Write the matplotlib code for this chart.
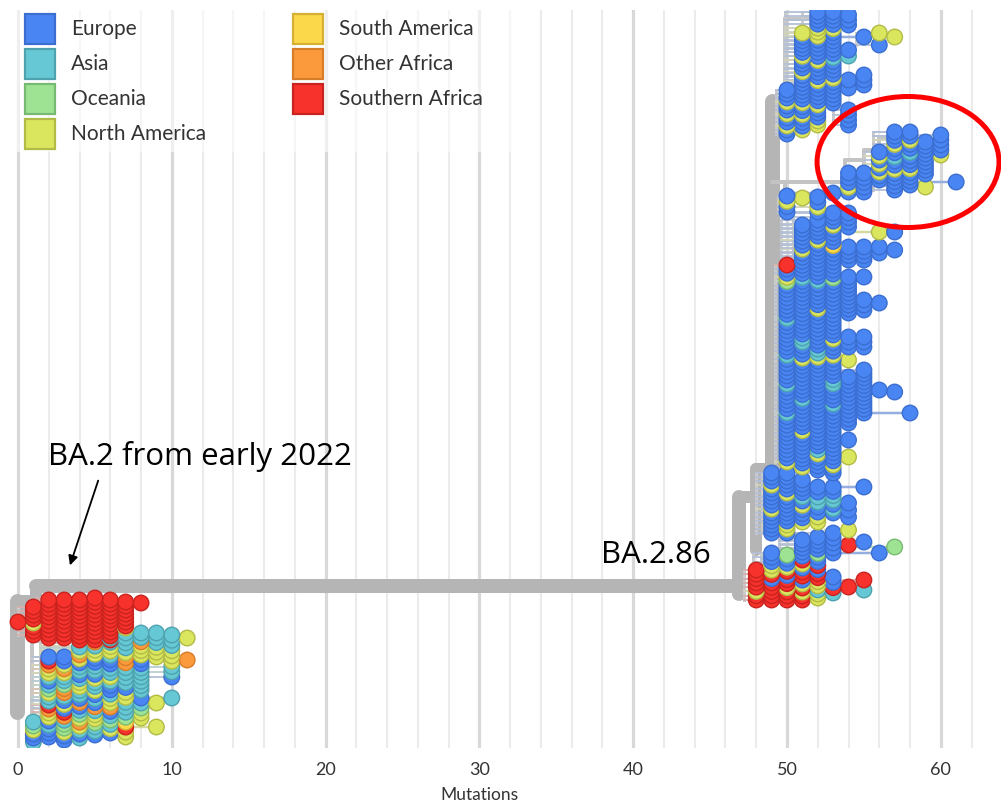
import matplotlib.pyplot as plt
from matplotlib.patches import Ellipse, Rectangle
from matplotlib.colors import to_rgb

plt.rcParams['font.family'] = ['Lato', 'DejaVu Sans']

# region colours, one letter per region in the tip strings below
regions = ['Europe', 'Asia', 'Oceania', 'North America',
           'South America', 'Other Africa', 'Southern Africa']
codes = ['E', 'A', 'O', 'N', 'S', 'F', 'R']
fills = ['#4a86f3', '#67c8d5', '#9ee394', '#dbe65f',
         '#fbd84a', '#fb9a3c', '#f7312b']
edges = ['#3b6ed0', '#4ea2ad', '#78ba72', '#b2bb45',
         '#d6b033', '#d67d2a', '#c8231f']

# tip columns: (mutations, first row, last row, parent node divergence, regions top->bottom)
ba2_red = [
    (0, 622, 622, -0.1, "R"),
    (1, 607, 635, 0.0, "RRRRNRRR"),
    (2, 600, 638, 1.2, "RRRRRRRRRR"),
    (3, 600, 638, 1.2, "RRRRRRRRRR"),
    (4, 600, 640, 1.2, "RRRRRRRRRRR"),
    (5, 598, 640, 1.2, "RRRRRRRRRRR"),
    (6, 600, 640, 1.2, "RRRRRRRRRRR"),
    (7, 602, 626, 1.2, "RRRRRRR"),
    (8, 603, 603, 1.2, "R"),
]

ba2_other = [
    (1, 722, 742, 0.9, "AONEEA"),
    (2, 657, 737, 0.9, "ERFNNAEAONAARFNNEAEEE"),
    (3, 657, 740, 0.9, "EENFNAAOFFAENERFAOONEE"),
    (4, 647, 738, 1.4, "ANFNEAAEANNAAEFEAONFNAEA"),
    (5, 642, 735, 1.4, "FANNEEAAENAANEAEFANNOAAE"),
    (6, 638, 733, 1.4, "AANNAEEAANAEEANNFEAOANE"),
    (7, 628, 737, 1.4, "NAAAANFFAAAAENNAAAOSRNN"),
    (8, 633, 690, 1.4, "AAFNNNEEAAAAAA"),
    (8, 698, 718, 4.5, "EAONN"),
    (9, 633, 657, 4.5, "AAANNN"),
    (9, 703, 703, 7.0, "N"),
    (9, 727, 727, 7.0, "N"),
    (10, 635, 677, 8.0, "AAANNNAAE"),
    (10, 698, 698, 8.0, "A"),
    (11, 638, 638, 9.0, "N"),
    (11, 660, 660, 9.0, "F"),
]

ba286_top = [
    (50, 90, 134, 49.3, "EEENEENEENEE"),
    (51, 33, 130, 49.9, "NEEEEENEEENEEEEEEENEENEEEN"),
    (52, 12, 125, 49.9, "EEEENNNEEEEENEEEENEEEEENEEENN"),
    (53, 12, 103, 51.0, "EEEENEEEEEEAEEEENEEEEEE"),
    (54, 15, 25, 52.5, "EEE"),
    (54, 50, 56, 52.5, "EA"),
    (54, 80, 88, 52.5, "EE"),
    (54, 110, 125, 53.0, "EEEE"),
    (55, 37, 37, 53.5, "E"),
    (55, 75, 85, 53.5, "EEE"),
    (56, 33, 45, 54.5, "NE"),
    (57, 37, 37, 55.5, "N"),
]

ba286_circled = [
    (54, 173, 192, 53.8, "EEENE"),
    (55, 173, 192, 53.8, "EEEEE"),
    (56, 152, 180, 55.0, "ENENENEE"),
    (57, 132, 190, 55.6, "EEENEEAEENEEEEE"),
    (58, 132, 185, 55.6, "EENEEAEEENEEEE"),
    (59, 142, 174, 56.6, "EEEEEEEEE"),
    (59, 187, 187, 57.0, "N"),
    (60, 135, 155, 57.5, "EEEEN"),
    (61, 182, 182, 58.8, "E"),
]

ba286_middle = [
    (50, 196, 212, 49.4, "ENEE"),
    (51, 198, 198, 49.9, "N"),
    (52, 197, 212, 49.9, "EENE"),
    (53, 193, 193, 49.9, "E"),
    (50, 265, 462, 49.2, "REENOEEEEEEEEAEEEEEEEEAEEEEEEAEEEEEEAEEEEEEEEEEEN"),
    (51, 225, 467, 49.6, "EEEEEENEEEEEEAEEEEEEEEEEEEEEAAEEENEEEEEEEEEAEEEEEEENEEEEEEEEN"),
    (52, 220, 470, 49.6, "EEEEENEEEEEEEEEAEEEEEENEEEEEEEEEAANEEEEEEEEEEEEEEEEEEEEEEANEEEE"),
    (53, 213, 473, 50.4, "EEENEEEESEEEEEEEOEEEEEEEEEEEEEENEEENEEEEEAAEEEEAEEEEEEEEEEEEEENEE"),
    (54, 213, 227, 52.5, "EEEE"),
    (54, 247, 260, 52.5, "EEEE"),
    (54, 277, 313, 52.5, "EEEEEEEEEE"),
    (54, 337, 347, 52.5, "EEE"),
    (54, 360, 360, 52.5, "N"),
    (54, 377, 423, 52.5, "EEEEEEEEEEEE"),
    (54, 440, 440, 52.5, "E"),
    (54, 457, 457, 52.5, "N"),
    (55, 247, 260, 53.5, "EEEE"),
    (55, 277, 277, 53.5, "E"),
    (55, 300, 310, 53.5, "EEE"),
    (55, 337, 347, 53.5, "EEE"),
    (55, 370, 413, 53.5, "EEEEEEEEEEEE"),
    (56, 232, 232, 54.5, "N"),
    (56, 247, 253, 54.5, "EE"),
    (56, 303, 303, 54.5, "E"),
    (56, 390, 390, 54.5, "E"),
    (57, 232, 232, 55.5, "E"),
    (57, 250, 250, 55.5, "E"),
    (57, 392, 392, 55.5, "E"),
    (58, 413, 413, 55.2, "E"),
]

ba286_lower = [
    (49, 473, 533, 48.0, "EEENEEEEENEEEEEE"),
    (50, 473, 533, 48.4, "EEEEENEEEEEEENNE"),
    (51, 480, 522, 48.8, "EEEEAENEEEN"),
    (52, 487, 522, 49.2, "EEAAEENN"),
    (53, 487, 513, 49.6, "EEAAEAE"),
    (54, 503, 517, 52.8, "EEE"),
    (55, 487, 487, 53.0, "E"),
    (48, 570, 600, 47.2, "RRRRRNRR"),
    (49, 553, 600, 47.8, "EEENNRERRRRR"),
    (50, 555, 600, 48.3, "OEENRERRNRRR"),
    (51, 540, 600, 49.5, "EEEEERNERRENRNRR"),
    (52, 537, 598, 49.5, "EEEEOEERERRNNANN"),
    (53, 533, 553, 50.5, "EEEEE"),
    (53, 577, 593, 51.0, "EERA"),
    (54, 530, 530, 52.5, "N"),
    (54, 545, 545, 52.5, "R"),
    (54, 587, 587, 52.0, "R"),
    (55, 542, 542, 53.0, "E"),
    (55, 580, 590, 53.0, "RA"),
    (56, 553, 553, 53.5, "E"),
    (57, 547, 547, 54.5, "O"),
]

# shared trunk of the tree: (x0, y0, x1, y1, width in px)
trunk = [
    (-0.05, 601, -0.05, 712, 15),
    (-0.05, 601, 1.2, 601, 12),
    (1.2, 589, 1.2, 603, 12),
    (1.2, 586, 46.9, 586, 14),
    (46.9, 497, 46.9, 594, 14),
    (46.9, 497, 48.0, 497, 12),
    (48.0, 469, 48.0, 550, 12),
    (48.0, 469, 49.0, 469, 13),
    (49.0, 101, 49.0, 469, 15),
    (49.0, 101, 49.8, 101, 10),
]

# smaller internal nodes
inner = [
    (0.9, 640, 0.9, 722, 4),
    (0.9, 641, 4.0, 641, 4),
    (1.4, 647, 1.4, 735, 3),
    (49.9, 18, 49.9, 99, 5),
    (49.9, 19, 51.5, 19, 4),
    (49.9, 182, 49.9, 212, 4),
    (49.0, 182, 53.8, 182, 4),
    (53.8, 160, 53.8, 185, 4),
    (53.8, 160, 55.0, 160, 4),
    (55.0, 150, 55.0, 165, 4),
    (55.0, 150, 56.0, 150, 4),
    (56.0, 138, 56.0, 152, 4),
    (56.0, 138, 57.0, 138, 4),
]

PX = 72 / 100  # points per pixel

fig = plt.figure(figsize=(10.01, 8.11), dpi=100)
ax = fig.add_axes([0, 63 / 811, 1, 738 / 811])
ax.set_xlim(-18 / 15.38, 983 / 15.38)
ax.set_ylim(748, 10)

ax.set_xticks(range(0, 61, 10))
ax.set_xticks(range(0, 64, 2), minor=True)
ax.set_yticks([])
ax.grid(which='major', axis='x', color='#d8d8d8', lw=2.3, zorder=0)
ax.grid(which='minor', axis='x', color='#ebebeb', lw=1.5, zorder=0)
ax.tick_params(axis='x', which='both', length=0, pad=10, labelsize=13,
               labelcolor='#333333')
for s in ax.spines.values():
    s.set_visible(False)
ax.set_axisbelow(True)

light = to_rgb('#cfcfcf')

for x0, y0, x1, y1, w in trunk:
    ax.plot([x0, x1], [y0, y1], color='#b5b5b5', lw=w * PX,
            solid_capstyle='round', zorder=2)
for x0, y0, x1, y1, w in inner:
    ax.plot([x0, x1], [y0, y1], color='#c4c4c4', lw=w * PX,
            solid_capstyle='round', zorder=2)

tip_x, tip_y, tip_c, tip_e = [], [], [], []
for clade in [ba2_red, ba2_other, ba286_top, ba286_circled,
              ba286_middle, ba286_lower]:
    for mut, top, bottom, parent, seq in clade:
        n = len(seq)
        ys = [top + (bottom - top) * i / max(n - 1, 1) for i in range(n)]
        if n > 1:
            ax.plot([parent, parent], [top, bottom], color='#cacaca',
                    lw=3 * PX, zorder=2)
        mix = 0.45 if n == 1 else 0.2
        for y, c in zip(ys, seq):
            k = codes.index(c)
            rgb = to_rgb(fills[k])
            branch = tuple(mix * a + (1 - mix) * b for a, b in zip(rgb, light))
            ax.plot([parent, mut], [y, y], color=branch,
                    lw=(2.5 if n == 1 else 1.8) * PX, zorder=3)
            tip_x.append(mut)
            tip_y.append(y)
            tip_c.append(fills[k])
            tip_e.append(edges[k])

# lower tips first, so each tip sits over the one below it
order = sorted(range(len(tip_y)), key=lambda i: -tip_y[i])
ax.scatter([tip_x[i] for i in order], [tip_y[i] for i in order],
           s=125, c=[tip_c[i] for i in order],
           edgecolors=[tip_e[i] for i in order], linewidths=1.0, zorder=4)

# legend
ax.add_patch(Rectangle((-0.6, 10), 33, 142, facecolor='white', alpha=0.6,
                       edgecolor='none', zorder=1))
for i, name in enumerate(regions):
    col, row = divmod(i, 4)
    x = 25 + col * 268
    y = 14 + row * 35
    fig.add_artist(Rectangle((x / 1001, 1 - (y + 30) / 811), 30 / 1001, 30 / 811,
                             transform=fig.transFigure, facecolor=fills[i],
                             edgecolor=edges[i], lw=2.2 * PX, zorder=6))
    fig.text((x + 46) / 1001, 1 - (y + 15) / 811, name, fontsize=15,
             color='#333333', va='center', ha='left')

# annotations
ax.text(1.95, 457, 'BA.2 from early 2022', fontsize=22.5, va='center',
        ha='left', family=['Open Sans', 'DejaVu Sans'], zorder=7)
ax.text(37.9, 555, 'BA.2.86', fontsize=22.5, va='center', ha='left',
        family=['Open Sans', 'DejaVu Sans'], zorder=7)
ax.annotate('', xy=(3.32, 568), xytext=(5.27, 478),
            arrowprops=dict(arrowstyle='-|>', lw=1.3, color='black',
                            mutation_scale=14), zorder=7)
ax.add_patch(Ellipse((57.87, 162), 11.83, 131, fill=False,
                     edgecolor='#ff0000', lw=5 * PX, zorder=8))

fig.text(479 / 1001, 1 - 795 / 811, 'Mutations', fontsize=12.5,
         color='#333333', ha='center', va='center')

fig.savefig('out.png', dpi=100)
